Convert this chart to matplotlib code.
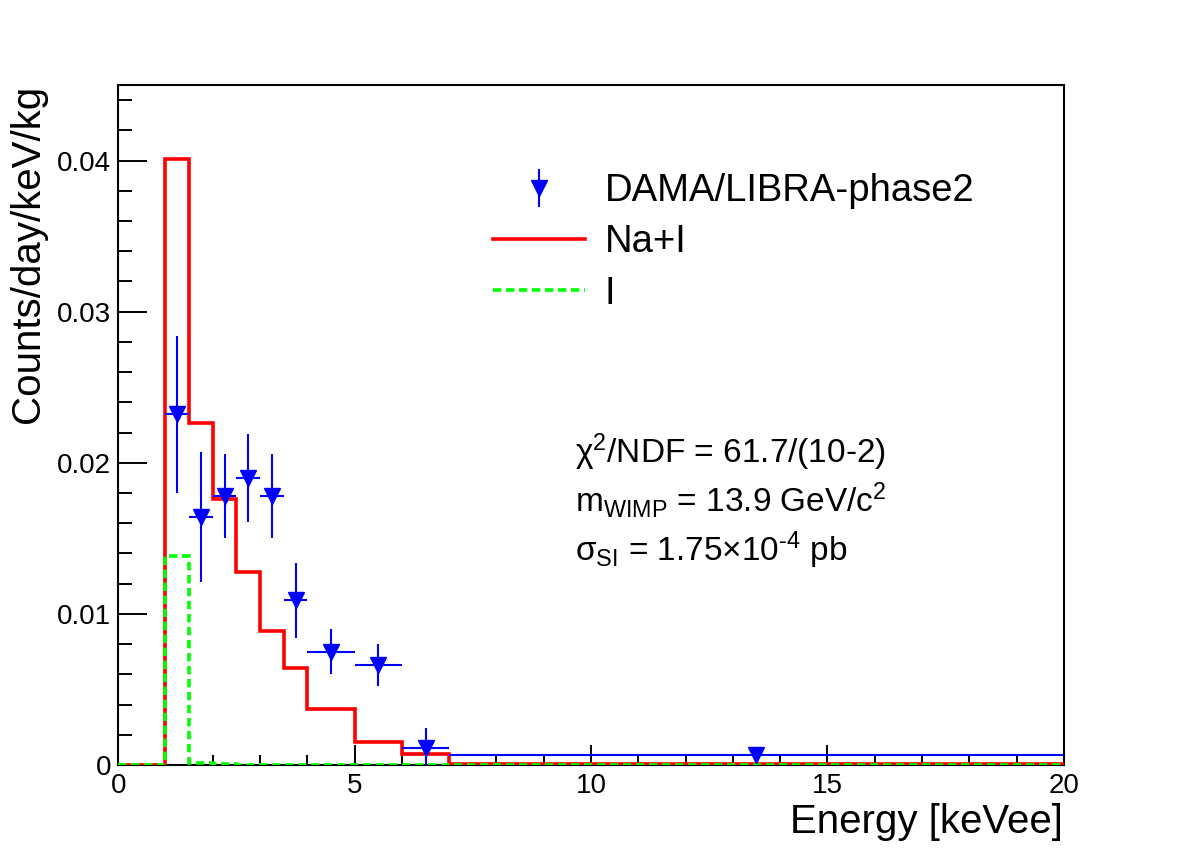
import matplotlib
matplotlib.use("Agg")
import matplotlib.pyplot as plt
from matplotlib.lines import Line2D
from matplotlib.ticker import MultipleLocator, FuncFormatter

plt.rcParams['font.family'] = ['Liberation Sans', 'DejaVu Sans']
plt.rcParams['mathtext.fontset'] = 'custom'
plt.rcParams['mathtext.rm'] = 'Liberation Sans'
plt.rcParams['mathtext.it'] = 'Liberation Sans:italic'
plt.rcParams['mathtext.bf'] = 'Liberation Sans:bold'

# --- data ---
# model histograms (bin edges in keVee)
bin_edges = [0, 1, 1.5, 2, 2.5, 3, 3.5, 4, 5, 6, 7, 20]
na_i_rate = [0.0, 0.0401, 0.0226, 0.0176, 0.0128, 0.0089, 0.0064, 0.0037, 0.00155, 0.00072, 0.00005]
i_rate = [0.0, 0.0138, 0.00015, 0.00004, 0.00003, 0.00002, 0.00002, 0.00001, 0.00001, 0.00001, 0.00001]

# DAMA/LIBRA-phase2 points
dama_e = [1.25, 1.75, 2.25, 2.75, 3.25, 3.75, 4.5, 5.5, 6.5, 13.5]
dama_ex = [0.25, 0.25, 0.25, 0.25, 0.25, 0.25, 0.5, 0.5, 0.5, 6.5]
dama_rate = [0.0232, 0.0164, 0.0178, 0.0190, 0.0178, 0.0109, 0.0075, 0.0066, 0.00114, 0.00066]
dama_err = [0.0052, 0.0043, 0.0028, 0.0029, 0.0028, 0.0025, 0.0015, 0.0014, 0.0013, 0.0]

fit_lines = [r'χ$^{\mathregular{2}}$/NDF = 61.7/(10-2)',
             r'm$_{\mathregular{WIMP}}$ = 13.9 GeV/c$^{\mathregular{2}}$',
             r'σ$_{\mathregular{SI}}$ = 1.75×10$^{\text{-4}}$ pb']

BLUE = '#0000ff'
RED = '#ff0000'
GREEN = '#00ff00'

fig = plt.figure(figsize=(11.82, 8.5), dpi=100)
ax = fig.add_axes([0.1, 0.1, 0.8, 0.8])

ax.stairs(na_i_rate, bin_edges, color=RED, linewidth=2.6, baseline=None, zorder=3)
ax.stairs(i_rate, bin_edges, color=GREEN, linewidth=2.6, linestyle=(0, (2.3, 1.3)),
          baseline=None, zorder=4)
ax.errorbar(dama_e, dama_rate, xerr=dama_ex, yerr=dama_err, fmt='v', color=BLUE,
            ecolor=BLUE, elinewidth=1.5, markersize=11, capsize=0, zorder=5)

ax.set_xlim(0, 20)
ax.set_ylim(0, 0.045)

ax.xaxis.set_major_locator(MultipleLocator(5))
ax.xaxis.set_minor_locator(MultipleLocator(1))
ax.yaxis.set_major_locator(MultipleLocator(0.01))
ax.yaxis.set_minor_locator(MultipleLocator(0.002))
ax.yaxis.set_major_formatter(FuncFormatter(lambda v, p: '0' if abs(v) < 1e-9 else f'{v:.2f}'))
ax.xaxis.set_major_formatter(FuncFormatter(lambda v, p: f'{v:.0f}'))

ax.tick_params(axis='both', which='both', direction='in', top=False, right=False,
               labelsize=20, width=1.4)
ax.tick_params(axis='y', which='major', length=21, pad=5)
ax.tick_params(axis='y', which='minor', length=10)
ax.tick_params(axis='x', which='major', length=14.5, pad=6)
ax.tick_params(axis='x', which='minor', length=7.2)
for s in ax.spines.values():
    s.set_linewidth(1.5)

fig.text(1063 / 1182, 1 - 822 / 850, 'Energy [keVee]', fontsize=29, ha='right', va='center')
fig.text(28 / 1182, 0.9, 'Counts/day/keV/kg', fontsize=29, rotation=90, ha='center', va='top')

# legend
h_dama = (Line2D([], [], marker='|', markersize=27, markeredgewidth=1.5, color=BLUE, ls='none'),
          Line2D([], [], marker='v', markersize=11, color=BLUE, ls='none'))
h_nai = Line2D([], [], color=RED, linewidth=2.6)
h_i = Line2D([], [], color=GREEN, linewidth=2.6, linestyle=(0, (2.3, 1.3)))
fig.legend([h_dama, h_nai, h_i], ['DAMA/LIBRA-phase2', 'Na+I', 'I'],
           loc='upper left', bbox_to_anchor=(493 / 1182, 1 - 173 / 850),
           frameon=False, fontsize=27.5, handlelength=2.4, handletextpad=0.52,
           labelspacing=0.4, borderpad=0, borderaxespad=0)

# fit results
for k, line in enumerate(fit_lines):
    fig.text(575 / 1182, 1 - (463 + 49 * k) / 850, line, fontsize=24, ha='left', va='baseline')

fig.savefig('out.png', dpi=100)
